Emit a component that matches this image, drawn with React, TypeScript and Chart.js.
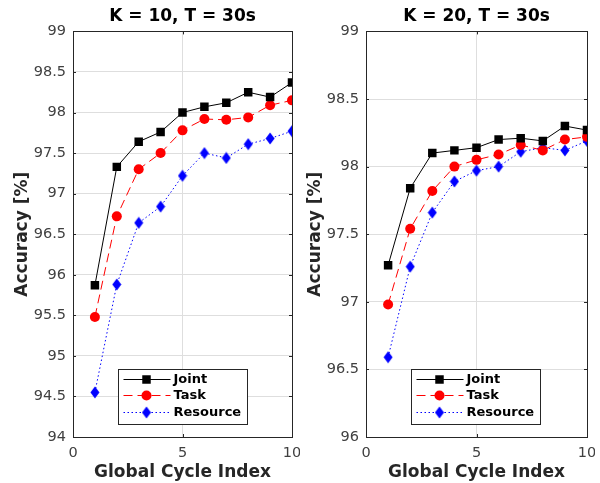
import React, { useEffect, useRef } from "react";
import { Chart, registerables } from "chart.js";

Chart.register(...registerables);

const cycles = [1, 2, 3, 4, 5, 6, 7, 8, 9, 10];

const jointK10 = [95.87, 97.33, 97.64, 97.76, 98.0, 98.07, 98.12, 98.25, 98.19, 98.37];
const taskK10 = [95.48, 96.72, 97.3, 97.5, 97.78, 97.92, 97.91, 97.94, 98.09, 98.15];
const resourceK10 = [94.55, 95.88, 96.64, 96.84, 97.22, 97.5, 97.44, 97.61, 97.68, 97.77];

const jointK20 = [97.27, 97.84, 98.1, 98.12, 98.14, 98.2, 98.21, 98.19, 98.3, 98.27];
const taskK20 = [96.98, 97.54, 97.82, 98.0, 98.05, 98.09, 98.16, 98.12, 98.2, 98.22];
const resourceK20 = [96.59, 97.26, 97.66, 97.89, 97.97, 98.0, 98.11, 98.14, 98.12, 98.19];

const seriesNames = ["Joint", "Task", "Resource"];
const titles = ["K = 10, T = 30s", "K = 20, T = 30s"];
const yRanges = [
  [94, 99],
  [96, 99],
];
const xTitle = "Global Cycle Index";
const yTitle = "Accuracy [%]";

const FONT = "'DejaVu Sans', sans-serif";
const AXIS_COLOR = "#262626";
const GRID_COLOR = "#dedede";

function makeDiamond(): HTMLCanvasElement {
  const c = document.createElement("canvas");
  c.width = 10;
  c.height = 13;
  const ctx = c.getContext("2d")!;
  ctx.fillStyle = "#0000ff";
  ctx.beginPath();
  ctx.moveTo(5, 0.5);
  ctx.lineTo(9.5, 6.5);
  ctx.lineTo(5, 12.5);
  ctx.lineTo(0.5, 6.5);
  ctx.closePath();
  ctx.fill();
  return c;
}

const boxPlugin = {
  id: "boxPlugin",
  afterDatasetsDraw(chart: any) {
    const { ctx, chartArea } = chart;
    const { left, right, top, bottom } = chartArea;
    ctx.save();
    ctx.strokeStyle = AXIS_COLOR;
    ctx.lineWidth = 1;
    ctx.strokeRect(Math.round(left) + 0.5, Math.round(top) + 0.5, Math.round(right - left), Math.round(bottom - top));
    const xs = chart.scales.x;
    const ys = chart.scales.y;
    ctx.beginPath();
    xs.ticks.forEach((t: any) => {
      const px = Math.round(xs.getPixelForValue(t.value)) + 0.5;
      ctx.moveTo(px, bottom);
      ctx.lineTo(px, bottom - 3);
      ctx.moveTo(px, top);
      ctx.lineTo(px, top + 3);
    });
    ys.ticks.forEach((t: any) => {
      const py = Math.round(ys.getPixelForValue(t.value)) + 0.5;
      ctx.moveTo(left, py);
      ctx.lineTo(left + 3, py);
      ctx.moveTo(right, py);
      ctx.lineTo(right - 3, py);
    });
    ctx.stroke();
    ctx.restore();
  },
};

const legendPlugin = {
  id: "legendPlugin",
  afterDraw(chart: any) {
    const { ctx, chartArea } = chart;
    const bx = Math.round(chartArea.left + 45) + 0.5;
    const by = Math.round(chartArea.top + 338) + 0.5;
    const bw = 129;
    const bh = 55;
    ctx.save();
    ctx.fillStyle = "#ffffff";
    ctx.fillRect(bx, by, bw, bh);
    ctx.strokeStyle = AXIS_COLOR;
    ctx.lineWidth = 1;
    ctx.strokeRect(bx, by, bw, bh);
    const rows = [10, 26, 43];
    chart.data.datasets.forEach((ds: any, i: number) => {
      const y = by + rows[i];
      ctx.save();
      ctx.strokeStyle = ds.borderColor;
      ctx.lineWidth = ds.borderWidth;
      ctx.setLineDash(ds.borderDash || []);
      ctx.beginPath();
      ctx.moveTo(bx + 5, y);
      ctx.lineTo(bx + 52, y);
      ctx.stroke();
      ctx.restore();
      ctx.fillStyle = ds.pointBackgroundColor;
      const mx = bx + 28;
      if (ds.pointStyle === "rect") {
        const s = ds.pointRadius * Math.SQRT1_2;
        ctx.fillRect(mx - s, y - s, 2 * s, 2 * s);
      } else if (ds.pointStyle === "circle") {
        ctx.beginPath();
        ctx.arc(mx, y, ds.pointRadius, 0, Math.PI * 2);
        ctx.fill();
      } else if (ds.pointStyle instanceof HTMLCanvasElement) {
        const img = ds.pointStyle;
        ctx.drawImage(img, mx - img.width / 2, y - img.height / 2);
      }
      ctx.fillStyle = "#000000";
      ctx.font = `bold 13px ${FONT}`;
      ctx.textBaseline = "middle";
      ctx.textAlign = "left";
      ctx.fillText(ds.label, bx + 55, y + 0.5);
    });
    ctx.restore();
  },
};

function makeConfig(idx: number, joint: number[], task: number[], resource: number[]): any {
  const diamond = makeDiamond();
  const toPts = (arr: number[]) => cycles.map((c, i) => ({ x: c, y: arr[i] }));
  return {
    type: "line",
    data: {
      datasets: [
        {
          label: seriesNames[0],
          data: toPts(joint),
          borderColor: "#000000",
          backgroundColor: "#000000",
          pointBackgroundColor: "#000000",
          pointBorderColor: "#000000",
          borderWidth: 1,
          pointStyle: "rect",
          pointRadius: 6,
          pointBorderWidth: 0,
          tension: 0,
        },
        {
          label: seriesNames[1],
          data: toPts(task),
          borderColor: "#ff0000",
          backgroundColor: "#ff0000",
          pointBackgroundColor: "#ff0000",
          pointBorderColor: "#ff0000",
          borderWidth: 1,
          borderDash: [9, 5],
          pointStyle: "circle",
          pointRadius: 5,
          pointBorderWidth: 0,
          tension: 0,
        },
        {
          label: seriesNames[2],
          data: toPts(resource),
          borderColor: "#0000ff",
          backgroundColor: "#0000ff",
          pointBackgroundColor: "#0000ff",
          pointBorderColor: "#0000ff",
          borderWidth: 1,
          borderDash: [1.5, 2.5],
          pointStyle: diamond,
          pointRadius: 5,
          pointBorderWidth: 0,
          tension: 0,
        },
      ],
    },
    options: {
      responsive: false,
      animation: false,
      devicePixelRatio: 1,
      layout: { padding: { left: 0, right: 8, top: 0, bottom: 0 } },
      plugins: {
        legend: { display: false },
        tooltip: { enabled: false },
        title: {
          display: true,
          fullSize: false,
          align: "center",
          text: titles[idx],
          color: "#000000",
          font: { family: FONT, size: 17, weight: "bold", lineHeight: 1.2 },
          padding: { top: 6, bottom: 5 },
        },
      },
      scales: {
        x: {
          type: "linear",
          min: 0,
          max: 10,
          afterFit: (s: any) => {
            s.height = 46;
            s.paddingLeft = 0;
            s.paddingRight = 0;
          },
          ticks: {
            stepSize: 5,
            padding: 8,
            color: "#404040",
            font: { family: FONT, size: 14.5 },
            callback: (v: any) => String(v),
          },
          grid: { color: GRID_COLOR, drawTicks: false },
          border: { display: false },
          title: {
            display: true,
            text: xTitle,
            color: "#262626",
            font: { family: FONT, size: 17, weight: "bold", lineHeight: 1.2 },
            padding: { top: 0, bottom: 0 },
          },
        },
        y: {
          type: "linear",
          min: yRanges[idx][0],
          max: yRanges[idx][1],
          afterFit: (s: any) => {
            s.width = 73;
          },
          ticks: {
            stepSize: 0.5,
            padding: 7,
            color: "#404040",
            font: { family: FONT, size: 14.5 },
            callback: (v: any) => String(v),
          },
          grid: { color: GRID_COLOR, drawTicks: false },
          border: { display: false },
          title: {
            display: true,
            text: yTitle,
            color: "#262626",
            font: { family: FONT, size: 17, weight: "bold", lineHeight: 1.2 },
            padding: { top: 12, bottom: 0 },
          },
        },
      },
    },
    plugins: [boxPlugin, legendPlugin],
  };
}

function ChartPanel({ idx, joint, task, resource, left, width }: any) {
  const ref = useRef<HTMLCanvasElement | null>(null);
  useEffect(() => {
    if (!ref.current) return;
    const chart = new Chart(ref.current, makeConfig(idx, joint, task, resource));
    return () => chart.destroy();
  }, []);
  return (
    <canvas
      ref={ref}
      width={width}
      height={483}
      style={{ position: "absolute", left, top: 0, width, height: 483 }}
    />
  );
}

export default function App() {
  return (
    <div style={{ position: "fixed", left: 0, top: 0, width: 600, height: 483, background: "#ffffff" }}>
      <ChartPanel idx={0} joint={jointK10} task={taskK10} resource={resourceK10} left={0} width={300} />
      <ChartPanel idx={1} joint={jointK20} task={taskK20} resource={resourceK20} left={293} width={302} />
    </div>
  );
}
